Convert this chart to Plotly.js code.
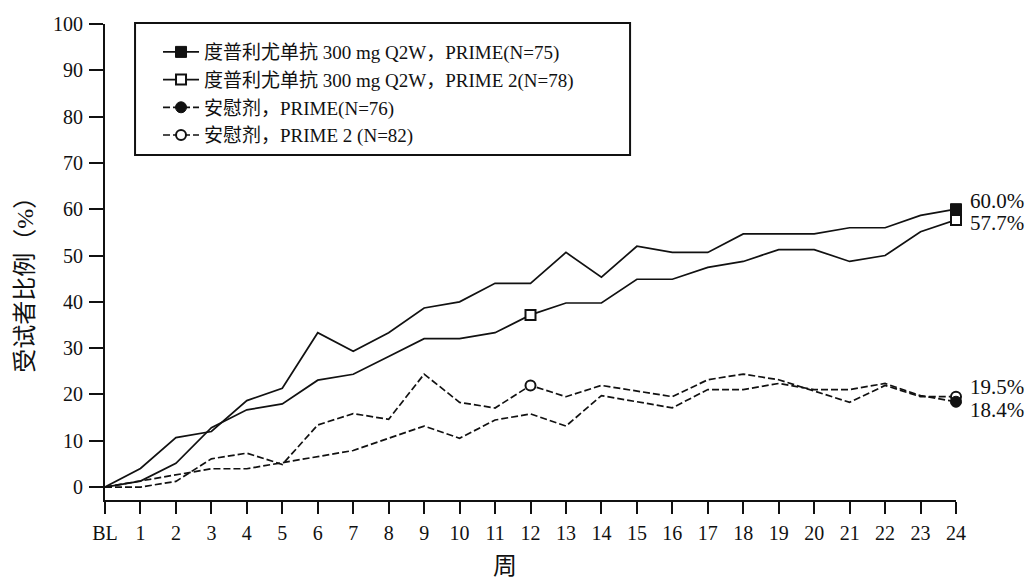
<!DOCTYPE html>
<html>
<head>
<meta charset="utf-8">
<script src="https://cdn.plot.ly/plotly-3.0.1.min.js"></script>
<style>
  html, body { margin: 0; padding: 0; background: #ffffff; }
  #chart { width: 1031px; height: 581px; }
</style>
</head>
<body>
<div id="chart"></div>
<script>
// ---------------- data ----------------
const weeks = [0, 1, 2, 3, 4, 5, 6, 7, 8, 9, 10, 11, 12, 13, 14, 15, 16, 17, 18, 19, 20, 21, 22, 23, 24];
const weekLabels = ['BL', '1', '2', '3', '4', '5', '6', '7', '8', '9', '10', '11', '12',
                    '13', '14', '15', '16', '17', '18', '19', '20', '21', '22', '23', '24'];
const yTicks = [0, 10, 20, 30, 40, 50, 60, 70, 80, 90, 100];

const dupiPrime = [0, 4.00, 10.67, 12.00, 18.67, 21.33, 33.33, 29.33, 33.33, 38.67, 40.00, 44.00, 44.00,
                   50.67, 45.33, 52.00, 50.67, 50.67, 54.67, 54.67, 54.67, 56.00, 56.00, 58.67, 60.00];
const dupiPrime2 = [0, 1.28, 5.13, 12.82, 16.67, 17.95, 23.08, 24.36, 28.21, 32.05, 32.05, 33.33, 37.18,
                    39.74, 39.74, 44.87, 44.87, 47.44, 48.72, 51.28, 51.28, 48.72, 50.00, 55.13, 57.69];
const placeboPrime = [0, 1.32, 2.63, 3.95, 3.95, 5.26, 6.58, 7.89, 10.53, 13.16, 10.53, 14.47, 15.79,
                      13.16, 19.74, 18.42, 17.11, 21.05, 21.05, 22.37, 21.05, 21.05, 22.37, 19.74, 18.42];
const placeboPrime2 = [0, 0, 1.22, 6.10, 7.32, 4.88, 13.41, 15.85, 14.63, 24.39, 18.29, 17.07, 21.95,
                       19.51, 21.95, 20.73, 19.51, 23.17, 24.39, 23.17, 20.73, 18.29, 21.95, 19.51, 19.51];

const seriesNames = [
  '度普利尤单抗 300 mg Q2W，PRIME(N=75)',
  '度普利尤单抗 300 mg Q2W，PRIME 2(N=78)',
  '安慰剂，PRIME(N=76)',
  '安慰剂，PRIME 2 (N=82)'
];
const markerWeeks = [[24], [12, 24], [24], [12, 24]];
const endLabels = ['60.0%', '57.7%', '18.4%', '19.5%'];

// ---------------- styles ----------------
const FONT = "'Liberation Serif', 'Times New Roman', 'Noto Sans CJK SC', serif";
const INK = '#111111';
const seriesData = [dupiPrime, dupiPrime2, placeboPrime, placeboPrime2];
const lineStyles = [
  {color: INK, width: 1.7, dash: 'solid'},
  {color: INK, width: 1.7, dash: 'solid'},
  {color: INK, width: 1.7, dash: '7px,3px'},
  {color: INK, width: 1.7, dash: '7px,3px'}
];
const markerStyles = [
  {symbol: 'square', size: 11, color: INK, line: {color: INK, width: 1}},
  {symbol: 'square', size: 10, color: '#ffffff', line: {color: INK, width: 2}},
  {symbol: 'circle', size: 11, color: INK, line: {color: INK, width: 1}},
  {symbol: 'circle', size: 10, color: '#ffffff', line: {color: INK, width: 2}}
];
const labelShift = [8, -3, -8, 10];

const traces = [];
// lines
seriesData.forEach((vals, i) => {
  traces.push({
    x: weeks, y: vals, type: 'scatter', mode: 'lines',
    line: lineStyles[i], showlegend: false, hoverinfo: 'skip', cliponaxis: false
  });
});
// markers (open ones drawn first, filled on top)
[1, 0, 3, 2].forEach(i => {
  const mx = markerWeeks[i];
  const my = mx.map(w => seriesData[i][weeks.indexOf(w)]);
  traces.push({
    x: mx, y: my, type: 'scatter', mode: 'markers',
    marker: markerStyles[i], showlegend: false, hoverinfo: 'skip', cliponaxis: false
  });
});
// legend entries
seriesNames.forEach((name, i) => {
  traces.push({
    x: [null], y: [null], type: 'scatter', mode: 'lines+markers', name: name,
    line: lineStyles[i], marker: markerStyles[i], showlegend: true, legendgroup: 'g' + i
  });
});

const annotations = [];
seriesData.forEach((vals, i) => {
  annotations.push({
    x: weeks[weeks.length - 1], y: vals[vals.length - 1], xref: 'x', yref: 'y',
    text: endLabels[i], showarrow: false, xanchor: 'left', yanchor: 'middle',
    xshift: 12, yshift: labelShift[i],
    font: {family: FONT, size: 21, color: INK}
  });
});
annotations.push({
  text: '受试者比例（%）', xref: 'paper', yref: 'paper', x: -0.094, y: 0.465,
  textangle: -90, showarrow: false, xanchor: 'center', yanchor: 'middle',
  font: {family: FONT, size: 24, color: INK}
});
annotations.push({
  text: '周', xref: 'paper', yref: 'paper', x: 0.47, y: -0.139,
  showarrow: false, xanchor: 'center', yanchor: 'middle',
  font: {family: FONT, size: 24, color: INK}
});

const layout = {
  width: 1031, height: 581,
  margin: {l: 105, r: 75, t: 24, b: 81, pad: 0},
  paper_bgcolor: '#ffffff', plot_bgcolor: '#ffffff',
  font: {family: FONT, size: 19, color: INK},
  showlegend: true,
  legend: {
    x: 0.0623, y: 0.981, xanchor: 'left', yanchor: 'top',
    bgcolor: 'rgba(0,0,0,0)', borderwidth: 0, itemwidth: 36,
    font: {family: FONT, size: 19, color: INK},
    traceorder: 'normal', tracegroupgap: 0, itemclick: false
  },
  xaxis: {
    range: [0, 24], tickmode: 'array', tickvals: weeks, ticktext: weekLabels,
    showline: true, linecolor: INK, linewidth: 2, ticks: 'outside', ticklen: 12, tickwidth: 2,
    tickcolor: INK, showgrid: false, zeroline: false, ticklabelstandoff: 2,
    tickfont: {family: FONT, size: 20, color: INK}, fixedrange: true
  },
  yaxis: {
    range: [-2.8, 100], tickmode: 'array', tickvals: yTicks,
    showline: true, linecolor: INK, linewidth: 2, ticks: 'outside', ticklen: 14, tickwidth: 2,
    tickcolor: INK, showgrid: false, zeroline: false, ticklabelstandoff: 2,
    tickfont: {family: FONT, size: 20, color: INK}, fixedrange: true
  },
  shapes: [{
    type: 'rect', xref: 'paper', yref: 'paper',
    x0: 0.0353, x1: 0.617, y0: 0.725, y1: 1.002,
    line: {color: INK, width: 2}, fillcolor: 'rgba(0,0,0,0)', layer: 'above'
  }],
  annotations: annotations
};

Plotly.newPlot('chart', traces, layout, {displayModeBar: false, staticPlot: true});
</script>
</body>
</html>
